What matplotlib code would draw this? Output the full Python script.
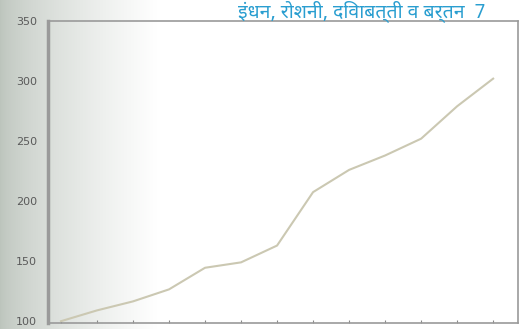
import matplotlib.pyplot as plt
import numpy as np

# values (index 0..12 along x)
points = list(range(13))
values = [100, 109, 116.5, 126.5, 144.5, 149, 163, 207.5, 226, 238, 252, 279, 302]
yticks = [100, 150, 200, 250, 300, 350]
title = "इंधन, रोशनी, दिवाबत्ती व बर्तन  7"

fig = plt.figure(figsize=(5.22, 3.29), dpi=100)

# scan shading on the left side
bg = fig.add_axes([0, 0, 1, 1], zorder=-1)
grad = np.linspace(0, 1, 522)
grad = np.clip(grad / 0.3, 0, 1) ** 0.7
img = np.zeros((1, 522, 3))
for c, (lo, hi) in enumerate([(0.74, 1.0), (0.77, 1.0), (0.74, 1.0)]):
    img[0, :, c] = lo + (hi - lo) * grad
bg.imshow(img, aspect='auto', extent=[0, 1, 0, 1])
bg.axis('off')

ax = fig.add_axes([48/522, 6/329, 470/522, 302/329])
ax.patch.set_alpha(0)
ax.plot(points, values, color='#cbc8b2', linewidth=1.5)
ax.set_xlim(-0.36, 12.69)
ax.set_ylim(98.5, 350)
ax.set_yticks(yticks)
ax.set_yticklabels([str(v) for v in yticks], fontsize=8, color='#5a5a5a',
                   family='Liberation Sans Narrow')
ax.set_xticks(points)
ax.set_xticklabels([])
ax.tick_params(axis='x', length=2, color='#888888', direction='in')
ax.tick_params(axis='y', length=0, pad=8)
for s in ax.spines.values():
    s.set_color('#9a9a9a')
    s.set_linewidth(1.2)
ax.spines['left'].set_linewidth(2.5)

fig.text(238/522, 0.999, title, color='#2a9ed0', fontsize=14, fontweight='bold',
         va='top', ha='left',
         family=['Noto Sans Devanagari', 'Noto Sans', 'DejaVu Sans'])

fig.savefig('out.png', dpi=100)
